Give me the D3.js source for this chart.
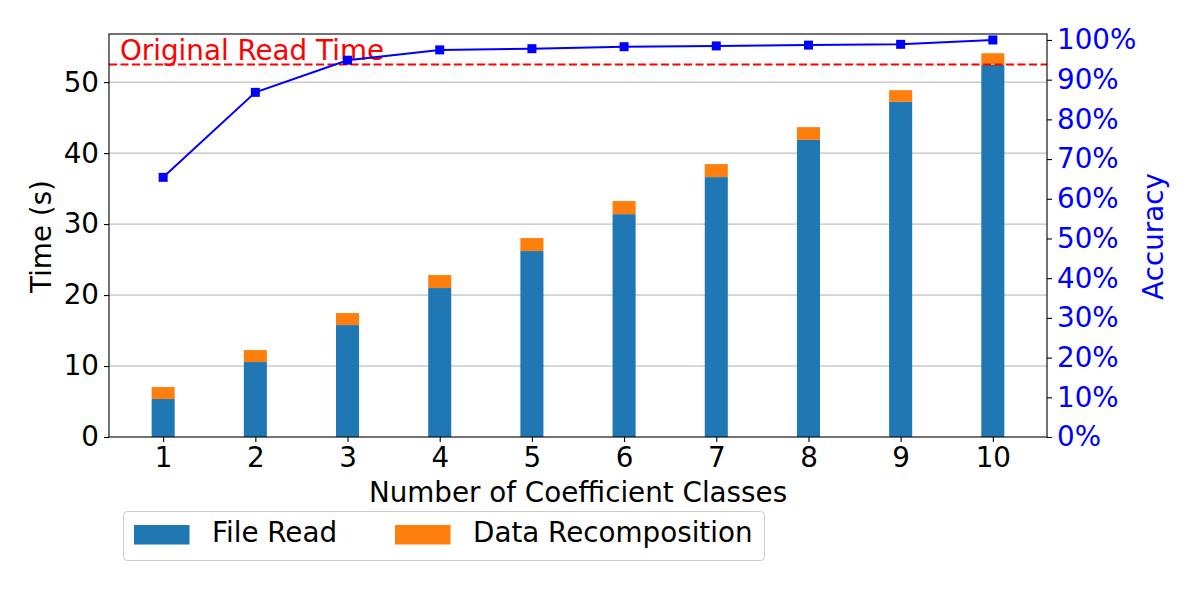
<!DOCTYPE html>
<html>
<head>
<meta charset="utf-8">
<script src="https://cdn.jsdelivr.net/npm/d3@7"></script>
<style>
  body { margin: 0; background: #fff; }
  text { font-family: "DejaVu Sans", sans-serif; }
</style>
</head>
<body>
<svg id="chart" width="1200" height="600"></svg>
<script>
// values
var classes = [1, 2, 3, 4, 5, 6, 7, 8, 9, 10];
var fileRead = [5.35, 10.56, 15.77, 20.99, 26.2, 31.4, 36.62, 41.87, 47.23, 52.44];
var recomposition = [1.69, 1.69, 1.69, 1.83, 1.83, 1.84, 1.83, 1.79, 1.64, 1.64];
var accuracy = [65.4, 86.8, 94.9, 97.5, 97.8, 98.3, 98.5, 98.7, 98.9, 100];
var originalReadTime = 52.49;
var timeTicks = [0, 10, 20, 30, 40, 50];
var accTicks = [0, 10, 20, 30, 40, 50, 60, 70, 80, 90, 100];

var fs = 27.78; // 20pt
var m = { left: 109, top: 34, right: 1047, bottom: 437 };
var barW = 0.25;

var svg = d3.select("#chart");

var totals = fileRead.map((v, i) => v + recomposition[i]);
var x = d3.scaleLinear()
  .domain([1 - barW / 2 - 0.05 * (9 + barW), 10 + barW / 2 + 0.05 * (9 + barW)])
  .range([m.left, m.right]);
var y = d3.scaleLinear().domain([0, d3.max(totals) * 1.05]).range([m.bottom, m.top]);
var y2 = d3.scaleLinear().domain([0, 101.5]).range([m.bottom, m.top]);

// grid
svg.append("g").selectAll("line").data(timeTicks.slice(1)).join("line")
  .attr("x1", m.left).attr("x2", m.right)
  .attr("y1", d => y(d)).attr("y2", d => y(d))
  .attr("stroke", "#b0b0b0").attr("stroke-width", 1);

// stacked bars
var bars = svg.append("g");
bars.selectAll("rect.fr").data(classes).join("rect").attr("class", "fr")
  .attr("x", d => x(d - barW / 2)).attr("width", x(barW) - x(0))
  .attr("y", (d, i) => y(fileRead[i])).attr("height", (d, i) => y(0) - y(fileRead[i]))
  .attr("fill", "#1f77b4");
bars.selectAll("rect.rc").data(classes).join("rect").attr("class", "rc")
  .attr("x", d => x(d - barW / 2)).attr("width", x(barW) - x(0))
  .attr("y", (d, i) => y(totals[i])).attr("height", (d, i) => y(fileRead[i]) - y(totals[i]))
  .attr("fill", "#ff7f0e");

// original read time
svg.append("line")
  .attr("x1", m.left).attr("x2", m.right)
  .attr("y1", y(originalReadTime)).attr("y2", y(originalReadTime))
  .attr("stroke", "red").attr("stroke-width", 2).attr("stroke-dasharray", "8,3.5");
svg.append("text").attr("x", 120).attr("y", 59.5)
  .attr("fill", "red").attr("font-size", fs).text("Original Read Time");

// accuracy line
var line = d3.line().x((d, i) => x(classes[i])).y(d => y2(d));
svg.append("path").datum(accuracy).attr("d", line)
  .attr("fill", "none").attr("stroke", "blue").attr("stroke-width", 2);
svg.append("g").selectAll("rect").data(accuracy).join("rect")
  .attr("x", (d, i) => x(classes[i]) - 4.5).attr("y", d => y2(d) - 4.5)
  .attr("width", 9).attr("height", 9).attr("fill", "blue");

// axes
var gx = svg.append("g").attr("transform", "translate(0," + m.bottom + ")")
  .call(d3.axisBottom(x).tickValues(classes).tickFormat(d3.format("d")).tickSize(5).tickPadding(5));
var gy = svg.append("g").attr("transform", "translate(" + m.left + ",0)")
  .call(d3.axisLeft(y).tickValues(timeTicks).tickSize(5).tickPadding(5));
var gy2 = svg.append("g").attr("transform", "translate(" + m.right + ",0)")
  .call(d3.axisRight(y2).tickValues(accTicks).tickFormat(d => d + "%").tickSize(5).tickPadding(5));

[gx, gy, gy2].forEach(g => {
  g.select(".domain").remove();
  g.selectAll("line").attr("stroke", "#000").attr("stroke-width", 1.1);
  g.selectAll("text").attr("font-size", fs).attr("font-family", "DejaVu Sans").attr("fill", "#000");
});
gy2.selectAll("text").attr("fill", "blue");

// frame
svg.append("rect").attr("x", m.left).attr("y", m.top)
  .attr("width", m.right - m.left).attr("height", m.bottom - m.top)
  .attr("fill", "none").attr("stroke", "#000").attr("stroke-width", 1.1);

// axis titles
svg.append("text").attr("x", (m.left + m.right) / 2).attr("y", 501.5)
  .attr("text-anchor", "middle").attr("font-size", fs).text("Number of Coefficient Classes");
svg.append("text").attr("transform", "translate(51,236.5) rotate(-90)")
  .attr("text-anchor", "middle").attr("font-size", fs).text("Time (s)");
svg.append("text").attr("transform", "translate(1163,236.5) rotate(-90)")
  .attr("text-anchor", "middle").attr("font-size", fs).attr("fill", "blue").text("Accuracy");

// legend
var legend = svg.append("g");
legend.append("rect").attr("x", 123.5).attr("y", 511.5).attr("width", 641).attr("height", 49)
  .attr("rx", 4).attr("fill", "#fff").attr("fill-opacity", 0.8).attr("stroke", "#cccccc");
var items = [{ name: "File Read", color: "#1f77b4", x: 134 }, { name: "Data Recomposition", color: "#ff7f0e", x: 395 }];
items.forEach(it => {
  legend.append("rect").attr("x", it.x).attr("y", 525).attr("width", 55.5).attr("height", 19.5).attr("fill", it.color);
  legend.append("text").attr("x", it.x + 78).attr("y", 542).attr("font-size", fs).text(it.name);
});
</script>
</body>
</html>
